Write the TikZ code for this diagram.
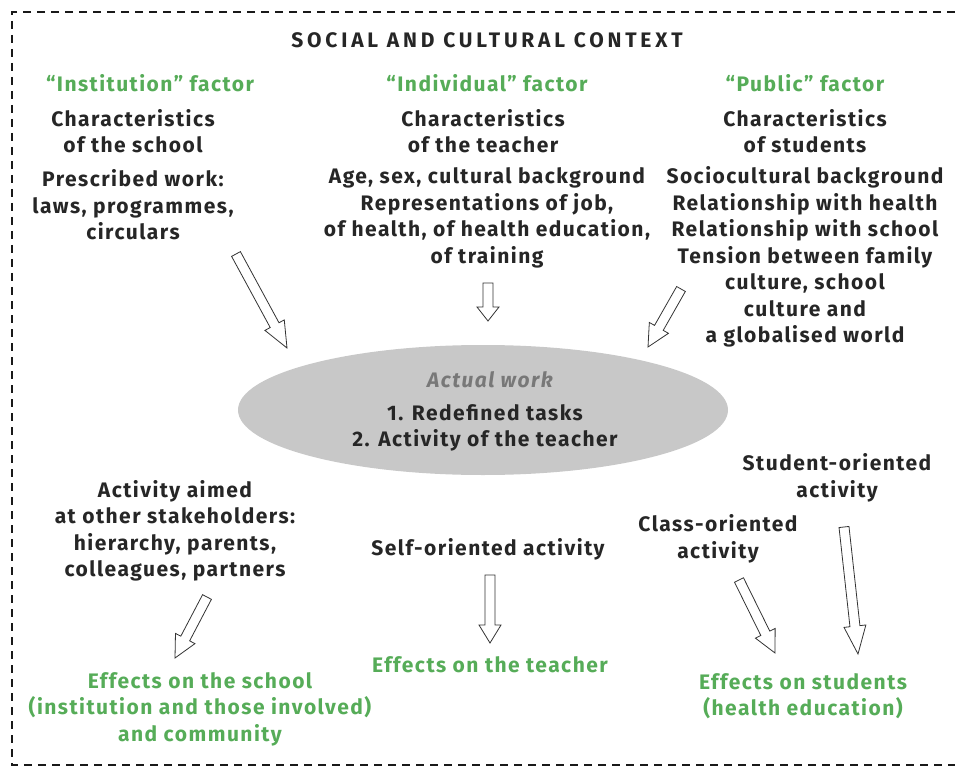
\documentclass[tikz,border=0pt]{standalone}
\usepackage{fontspec}
\setmainfont{Fira Sans}[LetterSpace=7]
\newfontfamily\titlefont{Fira Sans}[LetterSpace=18]
\usetikzlibrary{calc,shapes.geometric}
\definecolor{factorgreen}{RGB}{86,172,88}
\definecolor{textdark}{RGB}{38,38,38}
\definecolor{workgray}{RGB}{200,200,200}
\definecolor{workfont}{RGB}{120,120,120}
% hollow arrow: [head length](tail)(tip)
\def\hollowarrow[#1](#2)(#3){%
	\coordinate (hb) at ($(#3)!#1!(#2)$);
	\draw[fatarrow] ($(#2)!5pt!90:(#3)$) -- ($(hb)!5pt!90:(#3)$) -- ($(hb)!11pt!90:(#3)$) -- (#3)
		-- ($(hb)!11pt!-90:(#3)$) -- ($(hb)!5pt!-90:(#3)$) -- ($(#2)!5pt!-90:(#3)$) -- cycle;}

\begin{document}
\begin{tikzpicture}[x=1pt, y=-1pt,
	txt/.style={font=\bfseries\fontsize{21}{26.5}\selectfont, text=textdark, align=center, inner sep=0pt},
	factor/.style={txt, text=factorgreen},
	fatarrow/.style={draw=black!80, line width=0.8pt, fill=white, line join=miter},
	frame/.style={line width=2.4pt, dash pattern=on 8pt off 6pt, draw=black!90}]
			%%%%% FRAME %%%%%
			\useasboundingbox (0,0) rectangle (955,767);
			\draw[frame] (955,12) -- (12,12) -- (12,765) -- (955,765);
			
			\node[txt, font=\titlefont\bfseries\fontsize{21}{26.5}\selectfont] (context) at (487,40) {SOCIAL AND CULTURAL CONTEXT};
			
			%%%%% FACTORS %%%%%
			\node[factor] (institution) at (150,83) {“Institution” factor};
			\node[factor] (individual) at (487,83) {“Individual” factor};
			\node[factor] (public) at (805,83) {“Public” factor};
			
			\node[txt] (school) at (133,131) {Characteristics\\of the school};
			\node[txt] (teacher) at (483,131) {Characteristics\\of the teacher};
			\node[txt] (students) at (805,131) {Characteristics\\of students};
			
			\node[txt] (prescribed) at (133,205) {Prescribed work:\\laws, programmes,\\circulars};
			\node[txt] (background) at (487,218) {Age, sex, cultural background\\Representations of job,\\of health, of health education,\\of training};
			\node[txt] (socio) at (805,257) {Sociocultural background\\Relationship with health\\Relationship with school\\Tension between family\\culture, school\\culture and\\a globalised world};
			
			%%%%% ACTUAL WORK %%%%%
			\node[ellipse, fill=workgray, minimum width=490pt, minimum height=130pt] (actual) at (483,410) {};
			\node[txt, text=workfont, font=\bfseries\itshape\fontsize{21}{26.5}\selectfont] (actualwork) at (490,380) {Actual work};
			\node[txt] (tasks) at (485,428) {1. Redefined tasks\\2. Activity of the teacher};
			
			%%%%% ACTIVITIES %%%%%
			\node[txt] (stakeholders) at (175,531) {Activity aimed\\at other stakeholders:\\hierarchy, parents,\\colleagues, partners};
			\node[txt] (self) at (488,549) {Self-oriented activity};
			\node[txt] (class) at (718,539) {Class-oriented\\activity};
			\node[txt] (student) at (837,478) {Student-oriented\\activity};
			
			%%%%% EFFECTS %%%%%
			\node[factor] (effschool) at (200,709) {Effects on the school\\(institution and those involved)\\and community};
			\node[factor] (effteacher) at (490,665) {Effects on the teacher};
			\node[factor] (effstudents) at (803,696) {Effects on students\\(health education)};
			
			%%%%% ARROWS %%%%%
			\coordinate (a1) at (236,254); \coordinate (b1) at (287,348);
			\coordinate (a2) at (488,283); \coordinate (b2) at (488,321);
			\coordinate (a3) at (681,289); \coordinate (b3) at (648,347);
			\coordinate (a4) at (207,597); \coordinate (b4) at (175,658);
			\coordinate (a5) at (490,575); \coordinate (b5) at (490,643);
			\coordinate (a6) at (739,580); \coordinate (b6) at (775,653);
			\coordinate (a7) at (844,527); \coordinate (b7) at (858,654);
			
			\hollowarrow[26pt](a1)(b1)
			\hollowarrow[14pt](a2)(b2)
			\hollowarrow[22pt](a3)(b3)
			\hollowarrow[22pt](a4)(b4)
			\hollowarrow[18pt](a5)(b5)
			\hollowarrow[22pt](a6)(b6)
			\hollowarrow[28pt](a7)(b7)
			
		\end{tikzpicture}
\end{document}
